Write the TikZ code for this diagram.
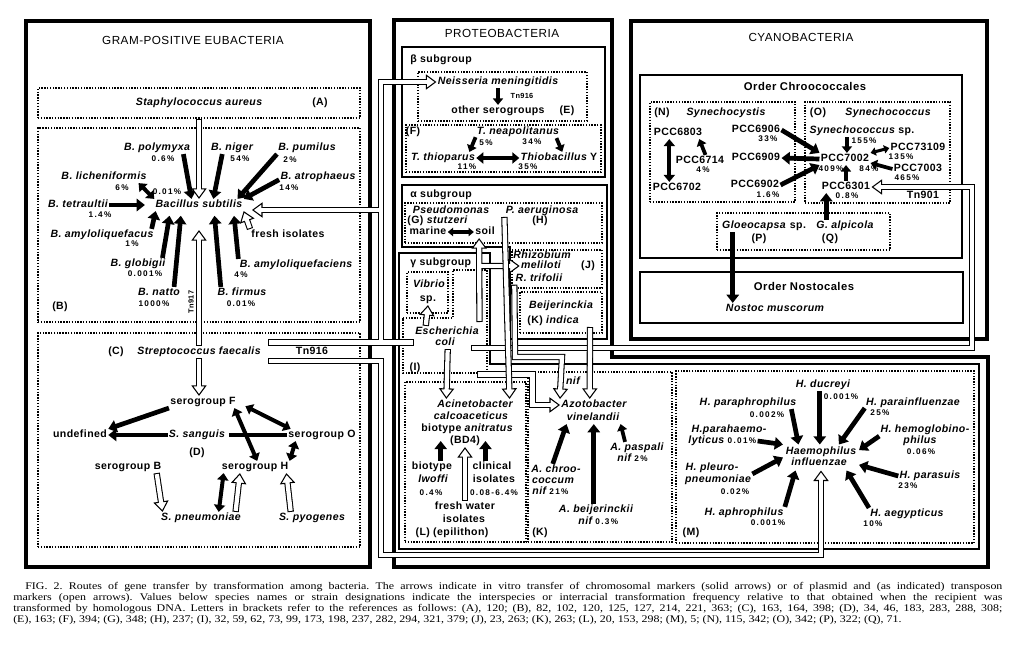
\documentclass[tikz,border=0pt]{standalone}
\usepackage{fontspec}
\setmainfont{Liberation Sans}[LetterSpace=4]
\newfontfamily\pcfont{Liberation Sans}[LetterSpace=16]
\newfontfamily\capfont{Liberation Serif}
\usetikzlibrary{arrows.meta,calc,fit,positioning}

\newcommand{\pct}[1]{{\pcfont\fontsize{7}{8}\selectfont\upshape\bfseries #1}}
% open arrow head: tip at #2, coming from #1
\newcommand{\ohd}[2]{\draw[ohead] ($(#2)!9.5pt!(#1)$) -- (#2);}
% straight open arrow from #1 to #2
\newcommand{\oarr}[2]{%
  \draw[pipeout] (#1) -- ($(#2)!5pt!(#1)$);
  \ohd{#1}{#2}
  \draw[pipein] (#1) -- ($(#2)!5pt!(#1)$);}

\begin{document}
\begin{tikzpicture}[x=0.03cm, y=-0.03cm,
  sp/.style={font=\fontsize{9}{10}\selectfont\bfseries\itshape, inner sep=1pt, text height=6.4pt, text depth=1.6pt},
  tx/.style={font=\fontsize{9}{10}\selectfont\bfseries, inner sep=1pt, text height=6.4pt, text depth=1.6pt},
  pc/.style={font=\pcfont\fontsize{7}{8}\selectfont\bfseries, inner sep=0.5pt},
  tn/.style={font=\fontsize{6.3}{7}\selectfont\bfseries, inner sep=0.5pt},
  ttl/.style={font=\fontsize{10}{11}\selectfont},
  ord/.style={font=\fontsize{9.6}{11}\selectfont\bfseries},
  frame/.style={draw, line width=2.6pt},
  subframe/.style={draw, line width=1.7pt},
  grp/.style={draw, line width=1.5pt, dash pattern=on 1.2pt off 1.2pt, inner sep=0pt},
  sar/.style={line width=4pt, -{Triangle[length=7pt,width=10.5pt]}},
  sarS/.style={line width=3.2pt, -{Triangle[length=5.5pt,width=8.5pt]}},
  dar/.style={line width=3.4pt, {Triangle[length=6pt,width=9.5pt]}-{Triangle[length=6pt,width=9.5pt]}},
  dars/.style={line width=2.6pt, {Triangle[length=4.5pt,width=7pt]}-{Triangle[length=4.5pt,width=7pt]}},
  bar/.style={line width=4pt},
  pipeout/.style={line width=5.4pt},
  pipein/.style={line width=3.6pt, white, shorten <=0.9pt, shorten >=0.9pt},
  ohead/.style={line width=0.9pt, -{Triangle[fill=white, length=9pt, width=13pt]}},
  figcap/.style={font=\capfont\fontsize{8.7}{9.35}\selectfont\frenchspacing, inner sep=0pt, text width=25.36cm, align=justify, xscale=1.17}
]
\useasboundingbox (0,0) rectangle (1024,672);

% ---------- frames
\draw[frame] (26,21) rectangle (370,567);
\draw[frame] (394,20) -- (612,20) -- (612,357) -- (988,357) -- (988,567) -- (394,567) -- cycle;
\draw[subframe] (402,47) rectangle (605,177);
\draw[subframe] (402,185) -- (607,185) -- (607,339) -- (510,339) -- (510,247) -- (402,247) -- cycle;
\draw[subframe] (399,253) -- (490,253) -- (490,364) -- (979,364) -- (979,549) -- (399,549) -- cycle;
\draw[frame, line width=3pt] (631,21) rectangle (987,339);
\draw[frame, line width=2.2pt] (640,75) rectangle (962,258);
\draw[frame, line width=2.2pt] (640,272) rectangle (963,323);

% ---------- dotted groups
\node[grp, fit={(38,88) (360,118)}] (boxA) {};
\node[grp, fit={(38,128) (360,322)}] (boxB) {};
\node[grp, fit={(38,333) (360,547)}] (boxC) {};
\node[grp, fit={(418,72) (587,121)}] (boxE) {};
\node[grp, fit={(406,125) (601,172)}] (boxF) {};
\node[grp, fit={(405,203) (602,243)}] (boxG) {};
\node[grp, fit={(512,250) (602,288)}] (boxJ) {};
\node[grp, fit={(520,292) (602,333)}] (boxK) {};
\node[grp, fit={(407,272) (448,313)}] (boxV) {};
\draw[grp] (403,318) -- (453,318) -- (453,270) -- (487,270) -- (487,373) -- (403,373) -- cycle;
\node[grp, fit={(405,382) (526,542)}] (boxL) {};
\node[grp, fit={(528,372) (672,542)}] (boxAz) {};
\node[grp, fit={(676,371) (974,543)}] (boxM) {};
\node[grp, fit={(650,102) (795,202)}] (boxN) {};
\node[grp, fit={(805,102) (950,203)}] (boxO) {};
\node[grp, fit={(717,213) (890,250)}] (boxPQ) {};

% ---------- gram-positive panel
\node[ttl] (gpe) at (193,40) {GRAM-POSITIVE EUBACTERIA};
\node[sp] (staph) at (199,103) {Staphylococcus aureus};
\node[tx] (refA) at (320,103) {(A)};
\node[sp] (subt) at (199,205) {Bacillus subtilis};
\node[sp] (polym) at (157,148) {B. polymyxa};
\node[pc] (pc01) at (163,159) {0.6\%};
\node[sp] (niger) at (232,148) {B. niger};
\node[pc] (pc02) at (240,159) {54\%};
\node[sp] (pumil) at (307,148) {B. pumilus};
\node[pc] (pc03) at (290,160) {2\%};
\node[sp] (lich) at (104,177) {B. licheniformis};
\node[pc] (pc04) at (122,188) {6\%};
\node[pc] (pc05) at (167,192) {0.01\%};
\node[sp] (atro) at (318,177) {B. atrophaeus};
\node[pc] (pc06) at (289,188) {14\%};
\node[sp] (tetr) at (78,205) {B. tetraultii};
\node[pc] (pc07) at (100,215) {1.4\%};
\node[sp] (amyl1) at (102,235) {B. amyloliquefacus};
\node[pc] (pc08) at (132,244) {1\%};
\node[tx] (fresh) at (288,235) {fresh isolates};
\node[sp] (glob) at (138,264) {B. globigii};
\node[pc] (pc09) at (145,274) {0.001\%};
\node[sp] (amyl2) at (296,265) {B. amyloliquefaciens};
\node[pc] (pc10) at (241,275) {4\%};
\node[sp] (natto) at (159,293) {B. natto};
\node[pc] (pc11) at (154,304) {1000\%};
\node[sp] (firm) at (242,293) {B. firmus};
\node[pc] (pc12) at (241,304) {0.01\%};
\node[tx] (refB) at (60,307) {(B)};
\node[tn, rotate=90] (tn917) at (191,302) {Tn917};

\node[tx] (refC) at (116,352) {(C)};
\node[sp] (strep) at (199,352) {Streptococcus faecalis};
\node[tx] (tn916) at (312,352) {Tn916};
\node[tx] (sgF) at (203,402) {serogroup F};
\node[tx] (undef) at (80,435) {undefined};
\node[sp] (sang) at (197,435) {S. sanguis};
\node[tx] (sgO) at (322,435) {serogroup O};
\node[tx] (refD) at (197,453) {(D)};
\node[tx] (sgB) at (128,467) {serogroup B};
\node[tx] (sgH) at (255,467) {serogroup H};
\node[sp] (pneu) at (201,518) {S. pneumoniae};
\node[sp] (pyog) at (312,518) {S. pyogenes};

% ---------- proteobacteria panel
\node[ttl] (proteo) at (502,33) {PROTEOBACTERIA};
\node[tx, anchor=west] (beta) at (409,60) {β subgroup};
\node[sp] (neis) at (498,82) {Neisseria meningitidis};
\node[tx] (other) at (498,111) {other serogroups};
\node[tx] (refE) at (567,111) {(E)};
\node[tn] (tn916b) at (522,96) {Tn916};
\node[tx] (refF) at (413,132) {(F)};
\node[sp] (tneap) at (518,132) {T. neapolitanus};
\node[pc] (pc13) at (486,143) {5\%};
\node[pc] (pc14) at (532,142) {34\%};
\node[sp] (tthio) at (443,158) {T. thioparus};
\node[sp] (thioY) at (559,158) {Thiobacillus \upshape Y};
\node[pc] (pc15) at (467,167) {11\%};
\node[pc] (pc16) at (528,167) {35\%};

\node[tx, anchor=west] (alpha) at (409,195) {α subgroup};
\node[sp] (pseu) at (451,211) {Pseudomonas};
\node[sp, anchor=west] (stutz) at (406,221) {\upshape(G) \itshape stutzeri};
\node[tx] (marine) at (428,232) {marine};
\node[tx] (soil) at (485,232) {soil};
\node[sp] (paer) at (542,211) {P. aeruginosa};
\node[tx] (refH) at (540,221) {(H)};
\node[sp] (rhiz) at (542,256) {Rhizobium};
\node[sp] (meli) at (541,266) {meliloti};
\node[tx] (refJ) at (588,266) {(J)};
\node[sp] (rtri) at (539,279) {R. trifolii};
\node[sp] (beij) at (561,306) {Beijerinckia};
\node[sp, anchor=west] (indica) at (526,321) {\upshape(K) \itshape indica};

\node[tx, anchor=west] (gamma) at (409,263) {γ subgroup};
\node[sp] (vib) at (429,285) {Vibrio};
\node[tx] (vibsp) at (428,299) {sp.};
\node[sp] (esch) at (447,332) {Escherichia};
\node[sp] (ecoli) at (445,343) {coli};
\node[tx] (refI) at (415,368) {(I)};

\node[sp] (acin) at (475,405) {Acinetobacter};
\node[sp] (calc) at (471,417) {calcoaceticus};
\node[tx] (anit) at (467,429) {biotype \itshape anitratus};
\node[tx] (bd4) at (465,441) {(BD4)};
\node[tx] (biot) at (432,467) {biotype};
\node[sp] (woff) at (433,480) {lwoffi};
\node[pc] (pc17) at (431,493) {0.4\%};
\node[tx] (clin) at (492,467) {clinical};
\node[tx] (isol1) at (494,480) {isolates};
\node[pc] (pc18) at (494,493) {0.08-6.4\%};
\node[tx] (fw) at (465,507) {fresh water};
\node[tx] (isol2) at (464,520) {isolates};
\node[tx] (refL) at (452,533) {(L) (epilithon)};

\node[sp] (nif0) at (573,382) {nif};
\node[sp] (azot) at (594,405) {Azotobacter};
\node[sp] (vine) at (593,418) {vinelandii};
\node[sp] (pasp) at (637,448) {A. paspali};
\node[sp, anchor=west] (paspn) at (616,459) {nif \pct{2\%}};
\node[sp] (chro1) at (556,470) {A. chroo-};
\node[sp] (chro2) at (553,481) {coccum};
\node[sp, anchor=west] (chro3) at (531,492) {nif \pct{21\%}};
\node[sp] (abei) at (596,510) {A. beijerinckii};
\node[sp, anchor=west] (abein) at (577,522) {nif \pct{0.3\%}};
\node[tx] (refK) at (540,533) {(K)};

\node[sp] (ducr) at (823,385) {H. ducreyi};
\node[pc] (pc19) at (841,397) {0.001\%};
\node[sp] (paraph) at (748,403) {H. paraphrophilus};
\node[pc] (pc20) at (767,415) {0.002\%};
\node[sp] (parai) at (913,403) {H. parainfluenzae};
\node[pc] (pc21) at (880,413) {25\%};
\node[sp] (phl1) at (729,430) {H.parahaemo-};
\node[sp, anchor=west] (phl2) at (687,441) {lyticus \pct{0.01\%}};
\node[sp] (hph1) at (925,430) {H. hemoglobino-};
\node[sp] (hph2) at (920,441) {philus};
\node[pc] (pc22) at (921,452) {0.06\%};
\node[sp] (hinf1) at (821,452) {Haemophilus};
\node[sp] (hinf2) at (819,463) {influenzae};
\node[fit=(hinf1)(hinf2), inner sep=1pt] (hinf) {};
\node[sp] (hpl1) at (712,468) {H. pleuro-};
\node[sp] (hpl2) at (718,480) {pneumoniae};
\node[pc] (pc23) at (735,492) {0.02\%};
\node[sp] (hpar) at (930,476) {H. parasuis};
\node[pc] (pc24) at (908,486) {23\%};
\node[sp] (haph) at (744,513) {H. aphrophilus};
\node[pc] (pc25) at (768,523) {0.001\%};
\node[sp] (haeg) at (907,514) {H. aegypticus};
\node[pc] (pc26) at (873,524) {10\%};
\node[tx] (refM) at (691,533) {(M)};

% ---------- cyanobacteria panel
\node[ttl] (cyano) at (801,37) {CYANOBACTERIA};
\node[ord] (chroo) at (805,86) {Order Chroococcales};
\node[tx] (refN) at (662,113) {(N)};
\node[sp] (synch) at (726,113) {Synechocystis};
\node[tx] (refO) at (818,113) {(O)};
\node[sp] (synco) at (888,113) {Synechococcus};
\node[tx] (p6803) at (678,133) {PCC6803};
\node[tx] (p6714) at (700,161) {PCC6714};
\node[pc] (pc27) at (703,170) {4\%};
\node[tx] (p6702) at (677,188) {PCC6702};
\node[tx] (p6906) at (756,130) {PCC6906};
\node[pc] (pc28) at (768,139) {33\%};
\node[tx] (p6909) at (756,158) {PCC6909};
\node[tx] (p6902) at (755,185) {PCC6902};
\node[pc] (pc29) at (768,195) {1.6\%};
\node[sp] (syncsp) at (862,131) {Synechococcus \upshape sp.};
\node[pc] (pc30) at (864,141) {155\%};
\node[tx] (p7002) at (845,159) {PCC7002};
\node[pc] (pc31) at (831,169) {409\%};
\node[pc] (pc32) at (869,169) {84\%};
\node[tx] (p73109) at (918,148) {PCC73109};
\node[pc] (pc33) at (901,157) {135\%};
\node[tx] (p7003) at (918,169) {PCC7003};
\node[pc] (pc34) at (907,178) {465\%};
\node[tx] (p6301) at (846,187) {PCC6301};
\node[pc] (pc35) at (847,196) {0.8\%};
\node[tx] (tn901) at (923,196) {Tn901};
\node[sp] (gloe) at (754,226) {Gloeocapsa};
\node[tx] (gloesp) at (798,226) {sp.};
\node[sp] (galp) at (845,226) {G. alpicola};
\node[tx] (refP) at (759,239) {(P)};
\node[tx] (refQ) at (830,239) {(Q)};
\node[ord] (nosto) at (804,286) {Order Nostocales};
\node[sp] (nmus) at (775,309) {Nostoc muscorum};

% ---------- solid arrows
\draw[sar] (polym.-13) -- (subt.141);
\draw[sar] (niger.-148) -- (subt.23);
\draw[sar] (pumil.south west) -- (subt.9);
\draw[sar] (atro.-176) -- (subt.north east);
\draw[dar] (lich.-10) -- (subt.north west);
\draw[sar, shorten >=8pt] (tetr.east) -- (subt.west);
\draw[sar] (amyl1.7) -- (subt.-172);
\draw[sar, shorten >=4pt] (glob.14) -- (subt.-168);
\draw[sar, shorten >=4pt] (natto.22) -- (subt.-161);
\draw[sar, shorten >=4pt] (firm.164) -- (subt.-22);
\draw[sar, shorten >=4pt] (amyl2.174) -- (subt.-10);

\draw[sar] (sgF.south west) -- (undef.north east);
\draw[sar] (sang.west) -- (undef.east);
\draw[bar, shorten <=2pt] (sang.east) -- (sgO.west);
\draw[dar, shorten <=8pt] (sgF.east) -- (sgO.169);
\draw[dar] (sgF.-11) -- (sgH.70);
\draw[dar] (sgO.-167) -- (sgH.north east);
\draw[dar] (pneu.19) -- (sgH.-169);

\draw[sarS] (neis.south) -- (other.north);
\draw[sarS] (tneap.-173) -- (tthio.13);
\draw[sarS] (tneap.-9) -- (thioY.62);
\draw[dar] (tthio.east) -- (thioY.west);
\draw[dars] (marine.east) -- (soil.west);

\draw[sar] (biot.35) -- (biot.35 |- bd4.center);
\draw[sar] (clin.137) -- (clin.137 |- bd4.center);
\draw[sar] (chro1.118) -- (vine.-167);
\draw[sar] (abei.110) -- (abei.110 |- vine.south);
\draw[sarS] (pasp.153) -- (vine.south east);

\draw[sar] (ducr.-118) -- (ducr.-118 |- hinf.north);
\draw[sar] (paraph.-8) -- (hinf.150);
\draw[sar] (parai.-174) -- (hinf.36);
\draw[sar] (phl2.east) -- (hinf.north west);
\draw[sar] (hph1.south west) -- (hinf.11);
\draw[sar] (hpl2.north east) -- (hinf.west);
\draw[sar] (hpar.west) -- (hinf.-11);
\draw[sar] (haph.north east) -- (hinf.-153);
\draw[sar] (haeg.north west) -- (hinf.-27);

\draw[sarS] (p6714.48) -- (p6803.-16);
\draw[dar] (p6803.-145) -- (p6803.-145 |- p6702.north);
\draw[sar] (p6906.east) -- (p7002.north west);
\draw[sar] (p7002.west) -- (p6909.east);
\draw[sar] (p6902.east) -- (p7002.south west);
\draw[sarS] (syncsp.-158) -- (syncsp.-158 |- p7002.north);
\draw[dars] (p7002.north east) -- (p73109.west);
\draw[sarS] (p7003.west) -- (p7002.-9);
\draw[sarS] (p6301.north) -- (p6301.north |- p7002.south);
\draw[sar] (galp.162) -- (galp.162 |- p6301.south);
\draw[sar] (gloe.-164) -- (gloe.-164 |- nmus.north);

% ---------- open arrows, lower layer
\coordinate (tnE) at (471,348);
\coordinate (tnR) at (972,348);
\coordinate (tnT) at (972,187);
\coordinate (p9a) at (477,374.5);
\coordinate (p9b) at (532.5,374.5);
\coordinate (p9c) at (532.5,405);
\draw[pipeout] (tnE) -- (tnR) -- (tnT) -- ($(p6301.east)+(6,0)$);
\draw[pipeout] (p9a) -- (p9b) -- (p9c) -- ($(azot.west)+(-6,0)$);
\ohd{tnT}{p6301.east}
\ohd{p9c}{azot.west}
\draw[pipein] (tnE) -- (tnR) -- (tnT) -- ($(p6301.east)+(6,0)$);
\draw[pipein] (p9a) -- (p9b) -- (p9c) -- ($(azot.west)+(-6,0)$);

% ---------- open arrows, upper layer
\coordinate (tnU) at (268,342.5);
\coordinate (ecL) at (414,342.5);
\coordinate (jA) at (381,342.5);
\coordinate (jB) at (381,82);
\coordinate (jC) at (381,210);
\coordinate (subtR) at (252,210);
\draw[pipeout] (tnU) -- (ecL) (jA) -- (jB) -- ($(neis.west)+(-6,0)$) (jC) -- ($(subtR)+(6,0)$);
\ohd{jB}{neis.west}
\ohd{jC}{subtR}
\draw[pipein] (tnU) -- (ecL);
\draw[pipein] (jA) -- (jB) -- ($(neis.west)+(-6,0)$);
\draw[pipein] (jC) -- ($(subtR)+(6,0)$);

\coordinate (tnD) at (268,361);
\coordinate (jD) at (381,361);
\coordinate (jE) at (381,555);
\coordinate (jF) at (hinf.south |- jE);
\draw[pipeout] (tnD) -- (jD) -- (jE) -- (jF) -- ($(hinf.south)+(0,6)$);
\ohd{jF}{hinf.south}
\draw[pipein] (tnD) -- (jD) -- (jE) -- (jF) -- ($(hinf.south)+(0,6)$);

\coordinate (soilB) at (479.5,322);
\coordinate (jG) at (479.5,266);
\draw[pipeout] (soilB) -- ($(soil.-134)+(0,6)$) (jG) -- ($(meli.west)+(-6,0)$);
\ohd{soilB}{soil.-134}
\ohd{jG}{meli.west}
\draw[pipein] (soilB) -- ($(soil.-134)+(0,6)$);
\draw[pipein] (jG) -- ($(meli.west)+(-6,0)$);

\coordinate (k7) at (515,357);
\coordinate (k8) at (562,357);
\draw[pipeout] (rtri.-167) -- (k7) -- (k8) -- ($(azot.170)+(0,-6)$);
\ohd{k8}{azot.170}
\draw[pipein] (rtri.-167) -- (k7) -- (k8) -- ($(azot.170)+(0,-6)$);

\coordinate (bjS) at (590,327);
\oarr{bjS}{azot.125}
\oarr{paer.-171}{acin.10}
\oarr{ecoli.-66}{acin.168}
\oarr{esch.164}{vibsp.south}
\oarr{fw.north}{bd4.south}

\coordinate (tnTip) at ($(subt.south)+(0,19)$);
\coordinate (sFtip) at (strep.south |- sgF.north);
\oarr{boxA.south}{subt.north}
\oarr{strep.north}{tnTip}
\oarr{strep.south}{sFtip}
\oarr{fresh.171}{subt.south east}
\oarr{sgB.-12}{pneu.171}
\oarr{pneu.10}{sgH.-158}
\oarr{pyog.164}{sgH.-11}

% ---------- caption
\node[figcap, anchor=north west] (caption) at (13,582) {\hspace*{0.31cm}FIG. 2. Routes of gene transfer by transformation among bacteria. The arrows indicate in vitro transfer of chromosomal markers (solid arrows) or of plasmid and (as indicated) transposon\linebreak markers (open arrows). Values below species names or strain designations indicate the interspecies or interracial transformation frequency relative to that obtained when the recipient was\linebreak transformed by homologous DNA. Letters in brackets refer to the references as follows: (A), 120; (B), 82, 102, 120, 125, 127, 214, 221, 363; (C), 163, 164, 398; (D), 34, 46, 183, 283, 288, 308;\linebreak (E), 163; (F), 394; (G), 348; (H), 237; (I), 32, 59, 62, 73, 99, 173, 198, 237, 282, 294, 321, 379; (J), 23, 263; (K), 263; (L), 20, 153, 298; (M), 5; (N), 115, 342; (O), 342; (P), 322; (Q), 71.};
\end{tikzpicture}
\end{document}
